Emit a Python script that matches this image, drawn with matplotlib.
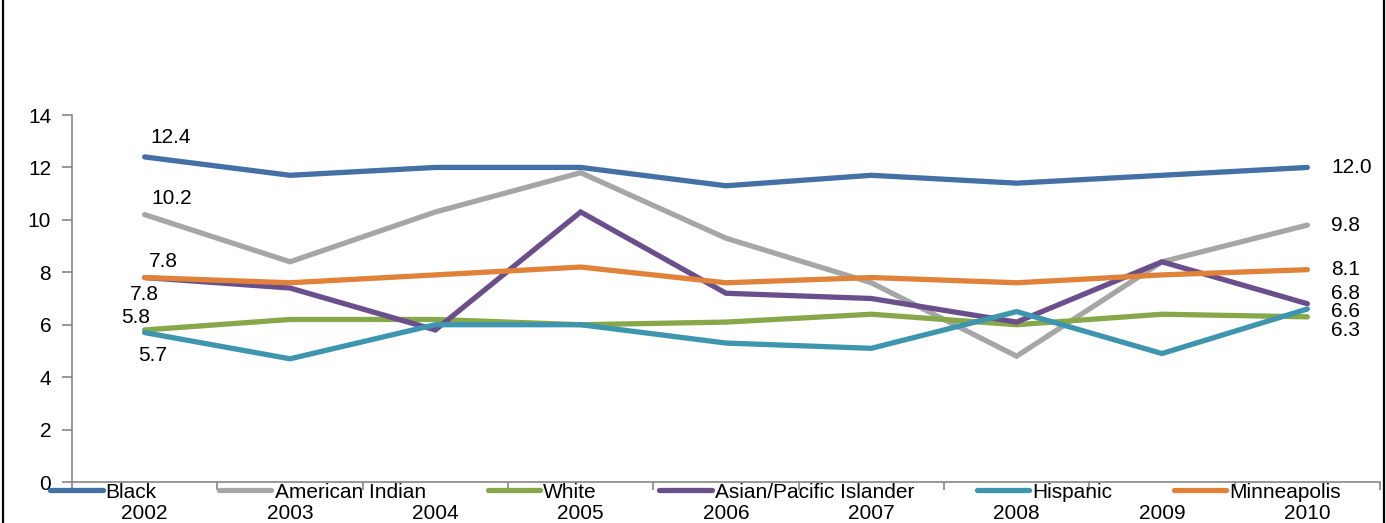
import numpy as np
import matplotlib
matplotlib.use("Agg")
from matplotlib import pyplot as plt
from matplotlib.lines import Line2D

plt.rcParams['font.family'] = ['Liberation Sans Narrow', 'Liberation Sans', 'DejaVu Sans']

years = ["2002", "2003", "2004", "2005", "2006", "2007", "2008", "2009", "2010"]

black = [12.4, 11.7, 12.0, 12.0, 11.3, 11.7, 11.4, 11.7, 12.0]
american_indian = [10.2, 8.4, 10.3, 11.8, 9.3, 7.6, 4.8, 8.4, 9.8]
white = [5.8, 6.2, 6.2, 6.0, 6.1, 6.4, 6.0, 6.4, 6.3]
asian_pi = [7.8, 7.4, 5.8, 10.3, 7.2, 7.0, 6.1, 8.4, 6.8]
hispanic = [5.7, 4.7, 6.0, 6.0, 5.3, 5.1, 6.5, 4.9, 6.6]
minneapolis = [7.8, 7.6, 7.9, 8.2, 7.6, 7.8, 7.6, 7.9, 8.1]

names = ["Black", "American Indian", "White", "Asian/Pacific Islander", "Hispanic", "Minneapolis"]
series = [black, american_indian, white, asian_pi, hispanic, minneapolis]
colors = ["#4470A6", "#A6A6A6", "#87A84A", "#6A4F8C", "#3D96AE", "#E0823A"]

# label offsets in pixels (first point, last point)
first_off = [(26, 19), (27, 16), (-9, 12), (0, -17), (8, -23), (19, 16)]
last_off = [(24, 0), (24, 0), (24, -14), (24, 10), (24, -3), (24, 0)]

fs = 15

fig = plt.figure(figsize=(13.86, 5.23), dpi=100)
ax = fig.add_axes([72 / 1386, 1 - 482 / 523, (1380 - 72) / 1386, (482 - 115) / 523])

x = np.arange(len(years))
for name, vals, c, fo, lo in zip(names, series, colors, first_off, last_off):
    ax.plot(x, vals, color=c, lw=3.8, solid_capstyle='round', solid_joinstyle='miter', label=name)
    ax.annotate(f"{vals[0]:.1f}", (x[0], vals[0]), xytext=fo, textcoords='offset pixels',
                ha='center', va='center', fontsize=fs)
    ax.annotate(f"{vals[-1]:.1f}", (x[-1], vals[-1]), xytext=lo, textcoords='offset pixels',
                ha='left', va='center', fontsize=fs)

ax.set_xlim(-0.5, len(years) - 0.5)
ax.set_ylim(0, 14)
ax.set_yticks(range(0, 15, 2))
ax.set_xticks(x)
ax.set_xticklabels(years)
ax.set_xticks(np.arange(-0.5, len(years), 1), minor=True)

for side in ['top', 'right']:
    ax.spines[side].set_visible(False)
for side in ['left', 'bottom']:
    ax.spines[side].set_color('#868686')
    ax.spines[side].set_linewidth(1.2)

ax.tick_params(axis='y', direction='out', length=7, width=1.2, color='#868686', pad=8, labelsize=fs)
ax.tick_params(axis='x', which='major', length=0, pad=16, labelsize=fs)
ax.tick_params(axis='x', which='minor', direction='out', length=6, width=1.2, color='#868686')

leg = fig.legend(loc='center', bbox_to_anchor=(0.502, 1 - 492 / 523), ncol=6, frameon=False,
                 fontsize=fs, handlelength=2.5, handletextpad=0.15, columnspacing=3.0,
                 borderpad=0, borderaxespad=0)
for h in leg.get_lines():
    h.set_linewidth(3.8)
    h.set_solid_capstyle('round')

# outer frame edges
fig.add_artist(Line2D([3 / 1386, 3 / 1386], [0, 1], color='black', lw=1.6))
fig.add_artist(Line2D([1384 / 1386, 1384 / 1386], [0, 1], color='black', lw=1.6))

fig.savefig("out.png", dpi=100)
